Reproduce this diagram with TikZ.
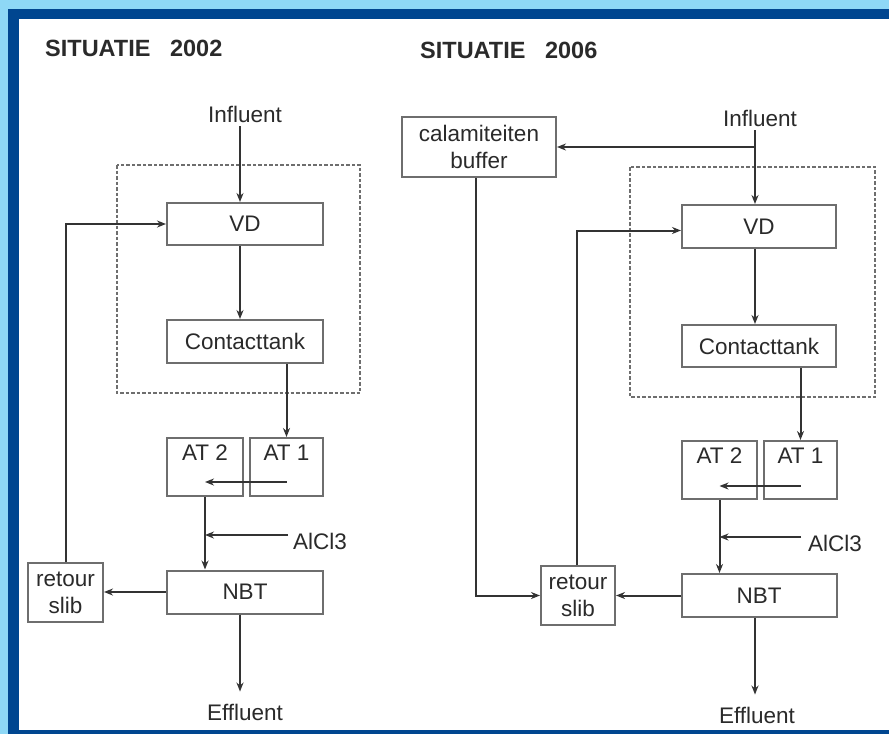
\documentclass[tikz,border=0pt]{standalone}
\usepackage{fontspec}
\setmainfont{Liberation Sans}
\usetikzlibrary{arrows.meta,calc}
\definecolor{lightframe}{HTML}{8ED8F6}
\definecolor{darkframe}{HTML}{004690}
\definecolor{boxline}{HTML}{6E6E6E}
\definecolor{flowline}{HTML}{333333}
\definecolor{txt}{HTML}{2A2A2A}
\tikzset{
  box/.style={draw=boxline, line width=2pt, fill=white, inner sep=0pt, text=txt, align=center, font=\fontsize{22.5}{27}\selectfont},
  lbl/.style={text=txt, inner sep=0pt, font=\fontsize{22.5}{27}\selectfont},
  ttl/.style={text=txt, inner sep=0pt, anchor=west, font=\fontsize{23.5}{28}\selectfont\bfseries},
  arr/.style={draw=flowline, line width=2pt, -{Stealth[length=9pt,width=7pt]}},
  dashbox/.style={draw=boxline, line width=1.6pt, dash pattern=on 3.5pt off 2pt},
}
\begin{document}
\begin{tikzpicture}[x=1pt,y=-1pt]
\useasboundingbox (0,0) rectangle (889,734);
% frame
\fill[lightframe] (0,0) rectangle (889,734);
\fill[darkframe] (8,9) rectangle (889,734);
\fill[white] (19,19) rectangle (889,730);

% ================= SITUATIE 2002 =================
\node[ttl] (t1) at (45,48) {SITUATIE\ \ \ 2002};
\draw[dashbox] (117,165) rectangle (360,393);
\node[lbl] (inA) at (245,114) {Influent};
\node[box, minimum width=156pt, minimum height=42pt] (vdA) at (245,224) {VD};
\node[box, minimum width=156pt, minimum height=43pt] (ctA) at (245,341.5) {Contacttank};
\node[box, minimum width=76pt, minimum height=58pt] (at2A) at (205,467) {};
\node[box, minimum width=73pt, minimum height=58pt] (at1A) at (286.5,467) {};
\node[lbl, below=8pt] (at2Al) at (at2A.north) {AT 2};
\node[lbl, below=8pt] (at1Al) at (at1A.north) {AT 1};
\node[box, minimum width=156pt, minimum height=43pt] (nbtA) at (245,592) {NBT};
\node[box, minimum width=75pt, minimum height=59pt] (rsA) at (65.5,592.5) {retour\\[0pt]slib};
\node[lbl] (alA) at (320,541) {AlCl3};
\node[lbl] (efA) at (245,712) {Effluent};
\coordinate (alAstart) at (288,535);

\draw[arr] ([xshift=-5pt]inA.south) ++(0,4) -- ([xshift=-5pt]vdA.north);
\draw[arr] ([xshift=-5pt]vdA.south) -- ([xshift=-5pt]ctA.north);
\draw[arr] (ctA.south -| at1A.north) -- (at1A.north);
\draw[arr] ([yshift=-15pt]at1A.center) -- ([yshift=-15pt]at2A.center);
\draw[arr] (at2A.south) -- (at2A.south |- nbtA.north);
\draw[arr] (alAstart) -- (alAstart -| at2A.south);
\draw[arr] (nbtA.west) -- (nbtA.west -| rsA.east);
\draw[arr] (rsA.north) |- (vdA.west);
\draw[arr] ([xshift=-5pt]nbtA.south) -- ([xshift=-5pt,yshift=12pt]efA.north);

% ================= SITUATIE 2006 =================
\node[ttl] (t2) at (420,50) {SITUATIE\ \ \ 2006};
\draw[dashbox] (630,167) rectangle (875,397);
\node[lbl] (inB) at (760,118) {Influent};
\node[box, minimum width=154pt, minimum height=60pt] (bufB) at (479,147) {calamiteiten\\[0pt]buffer};
\node[box, minimum width=154pt, minimum height=43pt] (vdB) at (759,226.5) {VD};
\node[box, minimum width=154pt, minimum height=42pt] (ctB) at (759,346) {Contacttank};
\node[box, minimum width=75pt, minimum height=58pt] (at2B) at (719.5,470) {};
\node[box, minimum width=73pt, minimum height=58pt] (at1B) at (800.5,470) {};
\node[lbl, below=8pt] (at2Bl) at (at2B.north) {AT 2};
\node[lbl, below=8pt] (at1Bl) at (at1B.north) {AT 1};
\node[box, minimum width=155pt, minimum height=43pt] (nbtB) at (759,595.5) {NBT};
\node[box, minimum width=74pt, minimum height=59pt] (rsB) at (578,595.5) {retour\\[0pt]slib};
\node[lbl] (alB) at (835,543) {AlCl3};
\node[lbl] (efB) at (757,715) {Effluent};
\coordinate (alBstart) at (801,537);
\coordinate (splitB) at (755,147);

\draw[arr] ([xshift=-5pt]inB.south) ++(0,4) -- ([xshift=-4pt]vdB.north);
\draw[arr] (splitB) -- (bufB.east);
\draw[arr] ([xshift=-4pt]vdB.south) -- ([xshift=-4pt]ctB.north);
\draw[arr] (ctB.south -| at1B.north) -- (at1B.north);
\draw[arr] ([yshift=-16pt]at1B.center) -- ([yshift=-16pt]at2B.center);
\draw[arr] (at2B.south) -- (at2B.south |- nbtB.north);
\draw[arr] (alBstart) -- (alBstart -| at2B.south);
\draw[arr] (nbtB.west) -- (nbtB.west -| rsB.east);
\draw[arr] ([xshift=-3pt]bufB.south) |- (rsB.west);
\draw[arr] ([xshift=-1pt]rsB.north) |- ([yshift=-4pt]vdB.west);
\draw[arr] ([xshift=-4pt]nbtB.south) -- ([xshift=-2pt,yshift=12pt]efB.north);
\end{tikzpicture}
\end{document}
